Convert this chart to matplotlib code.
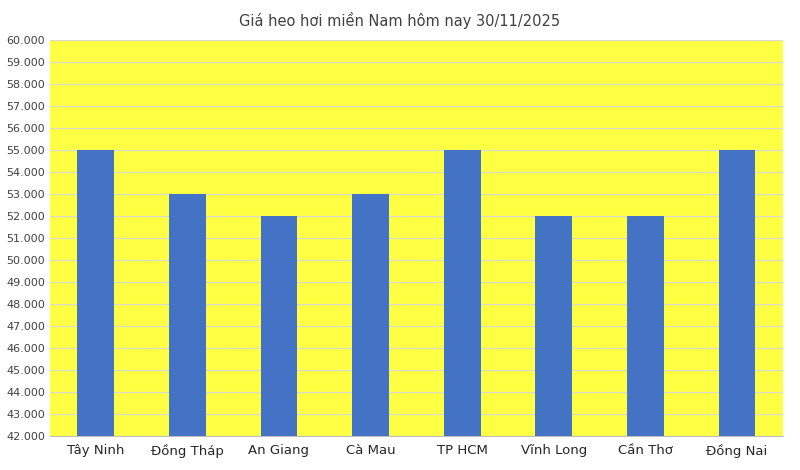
import matplotlib
matplotlib.use("Agg")
import matplotlib.pyplot as plt
from matplotlib.ticker import FuncFormatter

categories = ["Tây Ninh", "Đồng Tháp", "An Giang", "Cà Mau", "TP HCM", "Vĩnh Long", "Cần Thơ", "Đồng Nai"]
prices = [55000, 53000, 52000, 53000, 55000, 52000, 52000, 55000]

fig = plt.figure(figsize=(8, 4.7), dpi=100)
ax = fig.add_axes([0.0625, 0.072, 0.916, 0.843])
ax.set_facecolor("#FFFF44")
fig.patch.set_facecolor("white")
ax.bar(range(len(categories)), prices, width=0.4, color="#4472C4", zorder=3)
ax.set_ylim(42000, 60000)
ax.set_xlim(-0.5, len(categories) - 0.5)
ax.set_yticks(range(42000, 60001, 1000))
ax.yaxis.set_major_formatter(FuncFormatter(lambda v, p: f"{int(v):,}".replace(",", ".")))
ax.grid(axis="y", color="#D9D9D9", linewidth=0.8, zorder=0)
ax.set_xticks(range(len(categories)))
ax.set_xticklabels(categories, fontsize=9.5, color="#262626")
ax.tick_params(axis="y", labelsize=8, colors="#404040", length=0)
ax.tick_params(axis="x", length=0, pad=6)
for s in ["top", "right", "left"]:
    ax.spines[s].set_visible(False)
ax.spines["bottom"].set_color("#BFBFBF")
fig.suptitle("Giá heo hơi miền Nam hôm nay 30/11/2025", y=0.975, fontsize=10.5, color="#404040")
fig.savefig("out.png", dpi=100)
